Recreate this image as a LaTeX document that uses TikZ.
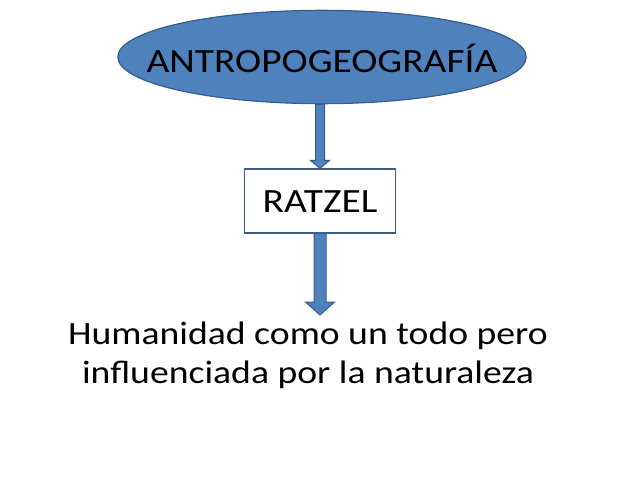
\documentclass[tikz,border=0pt]{standalone}
\usepackage{fontspec}
\setmainfont{Carlito}[FakeStretch=1.16]
\usetikzlibrary{shapes.geometric, calc}
\definecolor{azul}{HTML}{4F81BD}
\definecolor{borde}{HTML}{385D8A}
% block arrow: from, to, half shaft, half head, head length
\newcommand{\flecha}[5]{%
\path[flechabloque] let \p1=(#1), \p2=(#2) in
 (\x1-#3,\y1) -- (\x1+#3,\y1) -- (\x1+#3,\y2+#5) -- (\x1+#4,\y2+#5) -- (\x1,\y2)
 -- (\x1-#4,\y2+#5) -- (\x1-#3,\y2+#5) -- cycle;}

\begin{document}
\begin{tikzpicture}[x=1pt, y=-1pt]

\tikzset{elipse/.style = {shape=ellipse, fill=azul, draw=borde, line width=1.2pt, minimum width=407pt, minimum height=93pt, inner xsep=-31pt, inner ysep=18pt, font=\fontsize{34}{40}\selectfont, text height=30pt, text depth=0pt}}
\tikzset{caja/.style = {shape=rectangle, fill=white, draw=borde, line width=1.2pt, minimum width=151pt, minimum height=64pt, inner sep=0pt, font=\fontsize{34}{40}\selectfont, text height=22pt, text depth=0pt}}
\tikzset{texto/.style = {align=center, inner sep=0pt, font=\fontsize{32.5}{39}\selectfont}}
\tikzset{flechabloque/.style = {fill=azul, draw=borde, line width=1pt}}

\useasboundingbox (0,0) rectangle (640,480);
%nodes
\node[elipse] (geo) at (322,57) {ANTROPOGEOGRAFÍA};
\node[caja] (ratzel) at (320,201) {RATZEL};
\node[texto, anchor=north] (frase) at (308,322) {Humanidad como un todo pero\\influenciada por la naturaleza};
%arrows
\flecha{ratzel.north |- geo.south}{ratzel.north}{4.5pt}{9.5pt}{8pt}
\flecha{ratzel.south}{$(ratzel.south |- frase.north)+(0,-7)$}{6pt}{14.5pt}{13pt}

\end{tikzpicture}
\end{document}
